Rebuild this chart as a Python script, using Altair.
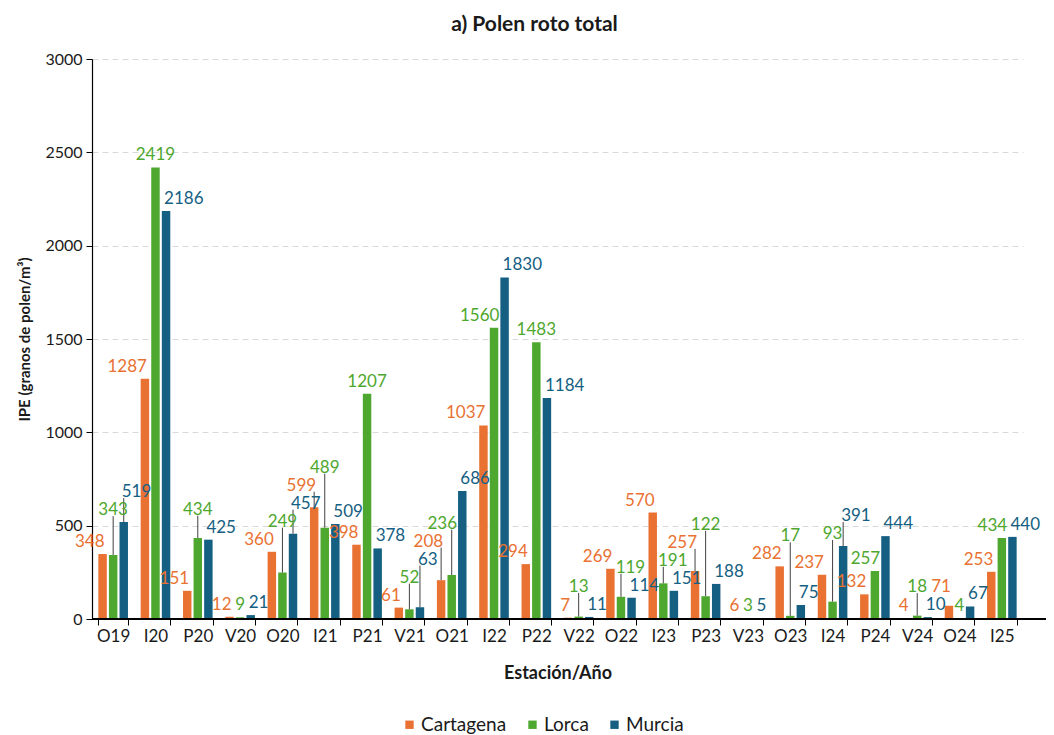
import altair as alt
import pandas as pd

estaciones = ["O19", "I20", "P20", "V20", "O20", "I21", "P21", "V21", "O21", "I22", "P22",
              "V22", "O22", "I23", "P23", "V23", "O23", "I24", "P24", "V24", "O24", "I25"]
cartagena = [348, 1287, 151, 12, 360, 599, 398, 61, 208, 1037, 294,
             7, 269, 570, 257, 6, 282, 237, 132, 4, 71, 253]
lorca = [343, 2419, 434, 9, 249, 489, 1207, 52, 236, 1560, 1483,
         13, 119, 191, 122, 3, 17, 93, 257, 18, 4, 434]
murcia = [519, 2186, 425, 21, 457, 509, 378, 63, 686, 1830, 1184,
          11, 114, 151, 188, 5, 75, 391, 444, 10, 67, 440]
ciudades = ["Cartagena", "Lorca", "Murcia"]
colores = ["#E97132", "#4EA72E", "#156082"]
y_ticks = [0, 500, 1000, 1500, 2000, 2500, 3000]

FONT = "Lato"
FS = 17
W, H = 931, 560
YMAX = 3000

# ---- automatic placement of the value labels (avoid overlapping each other) ----
series = [cartagena, lorca, murcia]
step = W / len(estaciones)
bw = step * 0.7
sub = bw / 2.8
bar_c = [-sub, 0.0, sub]
bar_w = sub * 0.8
upx = H / YMAX
LH = 18
DIG = 10.0
GAP = 2
EDGE = 2.0                      # outer labels: inner edge near the bar centre
SHIFT = sub - bar_w / 2 - 1     # Lorca label pushed away from a taller neighbour

MODES = {
    "c_right": ("right", EDGE),
    "m_left": ("left", -EDGE),
    "center": ("center", 0.0),
    "l_left": ("right", SHIFT),
    "l_right": ("left", -SHIFT),
}

labels = []
for g in range(len(estaciones)):
    vals = [series[k][g] for k in range(3)]
    group_bars = [(g * step + bar_c[k] - bar_w / 2, g * step + bar_c[k] + bar_w / 2,
                   vals[k] * upx) for k in range(3)]
    for k in range(3):
        v = vals[k]
        if k == 0:
            mode = "c_right"
        elif k == 2:
            mode = "m_left"
        else:
            c_v, m_v = vals[0], vals[2]
            if v >= c_v and m_v > v:
                mode = "l_left"
            elif v >= m_v and c_v > v:
                mode = "l_right"
            else:
                mode = "center"
        align, dx = MODES[mode]
        w = len(str(v)) * DIG + 1
        a = g * step + bar_c[k] + dx
        if align == "right":
            x0, x1 = a - w, a
        elif align == "left":
            x0, x1 = a, a + w
        else:
            x0, x1 = a - w / 2, a + w / 2
        h = v * upx
        for bx0, bx1, bh in group_bars:
            if bx0 < x1 and bx1 > x0:
                h = max(h, bh)
        labels.append({"g": g, "k": k, "x0": x0, "x1": x1, "base": h + 3, "mode": mode})

placed = []
for lab in sorted(labels, key=lambda d: d["base"]):
    moved = True
    while moved:
        moved = False
        for p in placed:
            if p["x0"] < lab["x1"] + GAP and p["x1"] + GAP > lab["x0"] and \
               p["base"] < lab["base"] + LH and p["base"] + LH > lab["base"]:
                lab["base"] = p["base"] + LH
                moved = True
    placed.append(lab)

info = {(d["g"], d["k"]): d for d in labels}

rows = []
for k, (ciudad, vals) in enumerate(zip(ciudades, series)):
    for g, (e, v) in enumerate(zip(estaciones, vals)):
        d = info[(g, k)]
        rows.append({"Estación": e, "Ciudad": ciudad, "IPE": v,
                     "y_label": d["base"] / upx, "y_line": (d["base"] + 3) / upx,
                     "lifted": d["base"] - v * upx > 12, "mode": d["mode"]})
df = pd.DataFrame(rows)

x_enc = alt.X(
    "Estación:N", sort=estaciones,
    scale=alt.Scale(paddingInner=0.3, paddingOuter=0.15),
    axis=alt.Axis(title="Estación/Año", labelAngle=0, tickBand="extent",
                  domainColor="#000000", domainWidth=1.2, tickColor="#000000",
                  tickSize=6, labelFontSize=17, labelColor="#1a1a1a", labelPadding=3,
                  labelFont=FONT, titleFont=FONT, titleFontSize=18,
                  titleFontWeight="bold", titleColor="#1a1a1a", titlePadding=20),
)
xo_enc = alt.XOffset("Ciudad:N", sort=ciudades,
                     scale=alt.Scale(paddingInner=0.2, paddingOuter=0))
y_scale = alt.Scale(domain=[0, YMAX], nice=False)
y_enc = alt.Y(
    "IPE:Q", scale=y_scale,
    axis=alt.Axis(values=y_ticks, format="d", title="IPE (granos de polen/m³)", grid=True,
                  gridDash=[6, 4], gridColor="#d9d9d9", domainColor="#000000",
                  domainWidth=1.2, tickColor="#000000", tickSize=6,
                  labelFontSize=16, labelColor="#1a1a1a", labelFont=FONT,
                  labelPadding=4, titleFont=FONT, titleFontSize=15,
                  titleFontWeight="bold", titleColor="#1a1a1a", titlePadding=12),
)

bars = alt.Chart(df).mark_bar().encode(
    x=x_enc, xOffset=xo_enc, y=y_enc,
    color=alt.Color("Ciudad:N", sort=ciudades,
                    scale=alt.Scale(domain=ciudades, range=colores),
                    legend=alt.Legend(title=None, orient="none", legendX=308, legendY=656,
                                      direction="horizontal", symbolType="square",
                                      symbolSize=70, symbolStrokeWidth=0,
                                      labelFontSize=19, labelFont=FONT,
                                      labelColor="#1a1a1a", labelOffset=2,
                                      columnPadding=16)),
)

leaders = alt.Chart(df).transform_filter(alt.datum.lifted).mark_rule(
    color="#404040", strokeWidth=1
).encode(x=x_enc, xOffset=xo_enc, y=alt.Y("IPE:Q", scale=y_scale),
         y2=alt.Y2("y_line:Q"))

label_layers = []
for k, (ciudad, color) in enumerate(zip(ciudades, colores)):
    for mode, (align, dx) in MODES.items():
        if not ((df["Ciudad"] == ciudad) & (df["mode"] == mode)).any():
            continue
        label_layers.append(
            alt.Chart(df).transform_filter(
                (alt.datum.Ciudad == ciudad) & (alt.datum.mode == mode)
            ).mark_text(
                dx=dx, align=align, baseline="bottom", fontSize=FS, font=FONT,
                color=color,
            ).encode(x=x_enc, xOffset=xo_enc, y=alt.Y("y_label:Q", scale=y_scale),
                     text="IPE:Q")
        )

axis_ext = alt.Chart(df).mark_rule(color="#000000", strokeWidth=1.2).encode(
    x=alt.value(0), x2=alt.value(W + 23), y=alt.value(H)
)

chart = alt.layer(bars, leaders, *label_layers, axis_ext).properties(
    width=W, height=H,
    autosize="none",
    padding={"left": 84, "top": 51, "right": 23, "bottom": 116},
    title=alt.TitleParams("a) Polen roto total", font=FONT, fontSize=21,
                          fontWeight="bold", color="#1a1a1a", anchor="middle",
                          dx=-23, offset=16),
).configure_view(stroke=None)

chart.save("out.html", embed_options={"renderer": "svg", "actions": False})
